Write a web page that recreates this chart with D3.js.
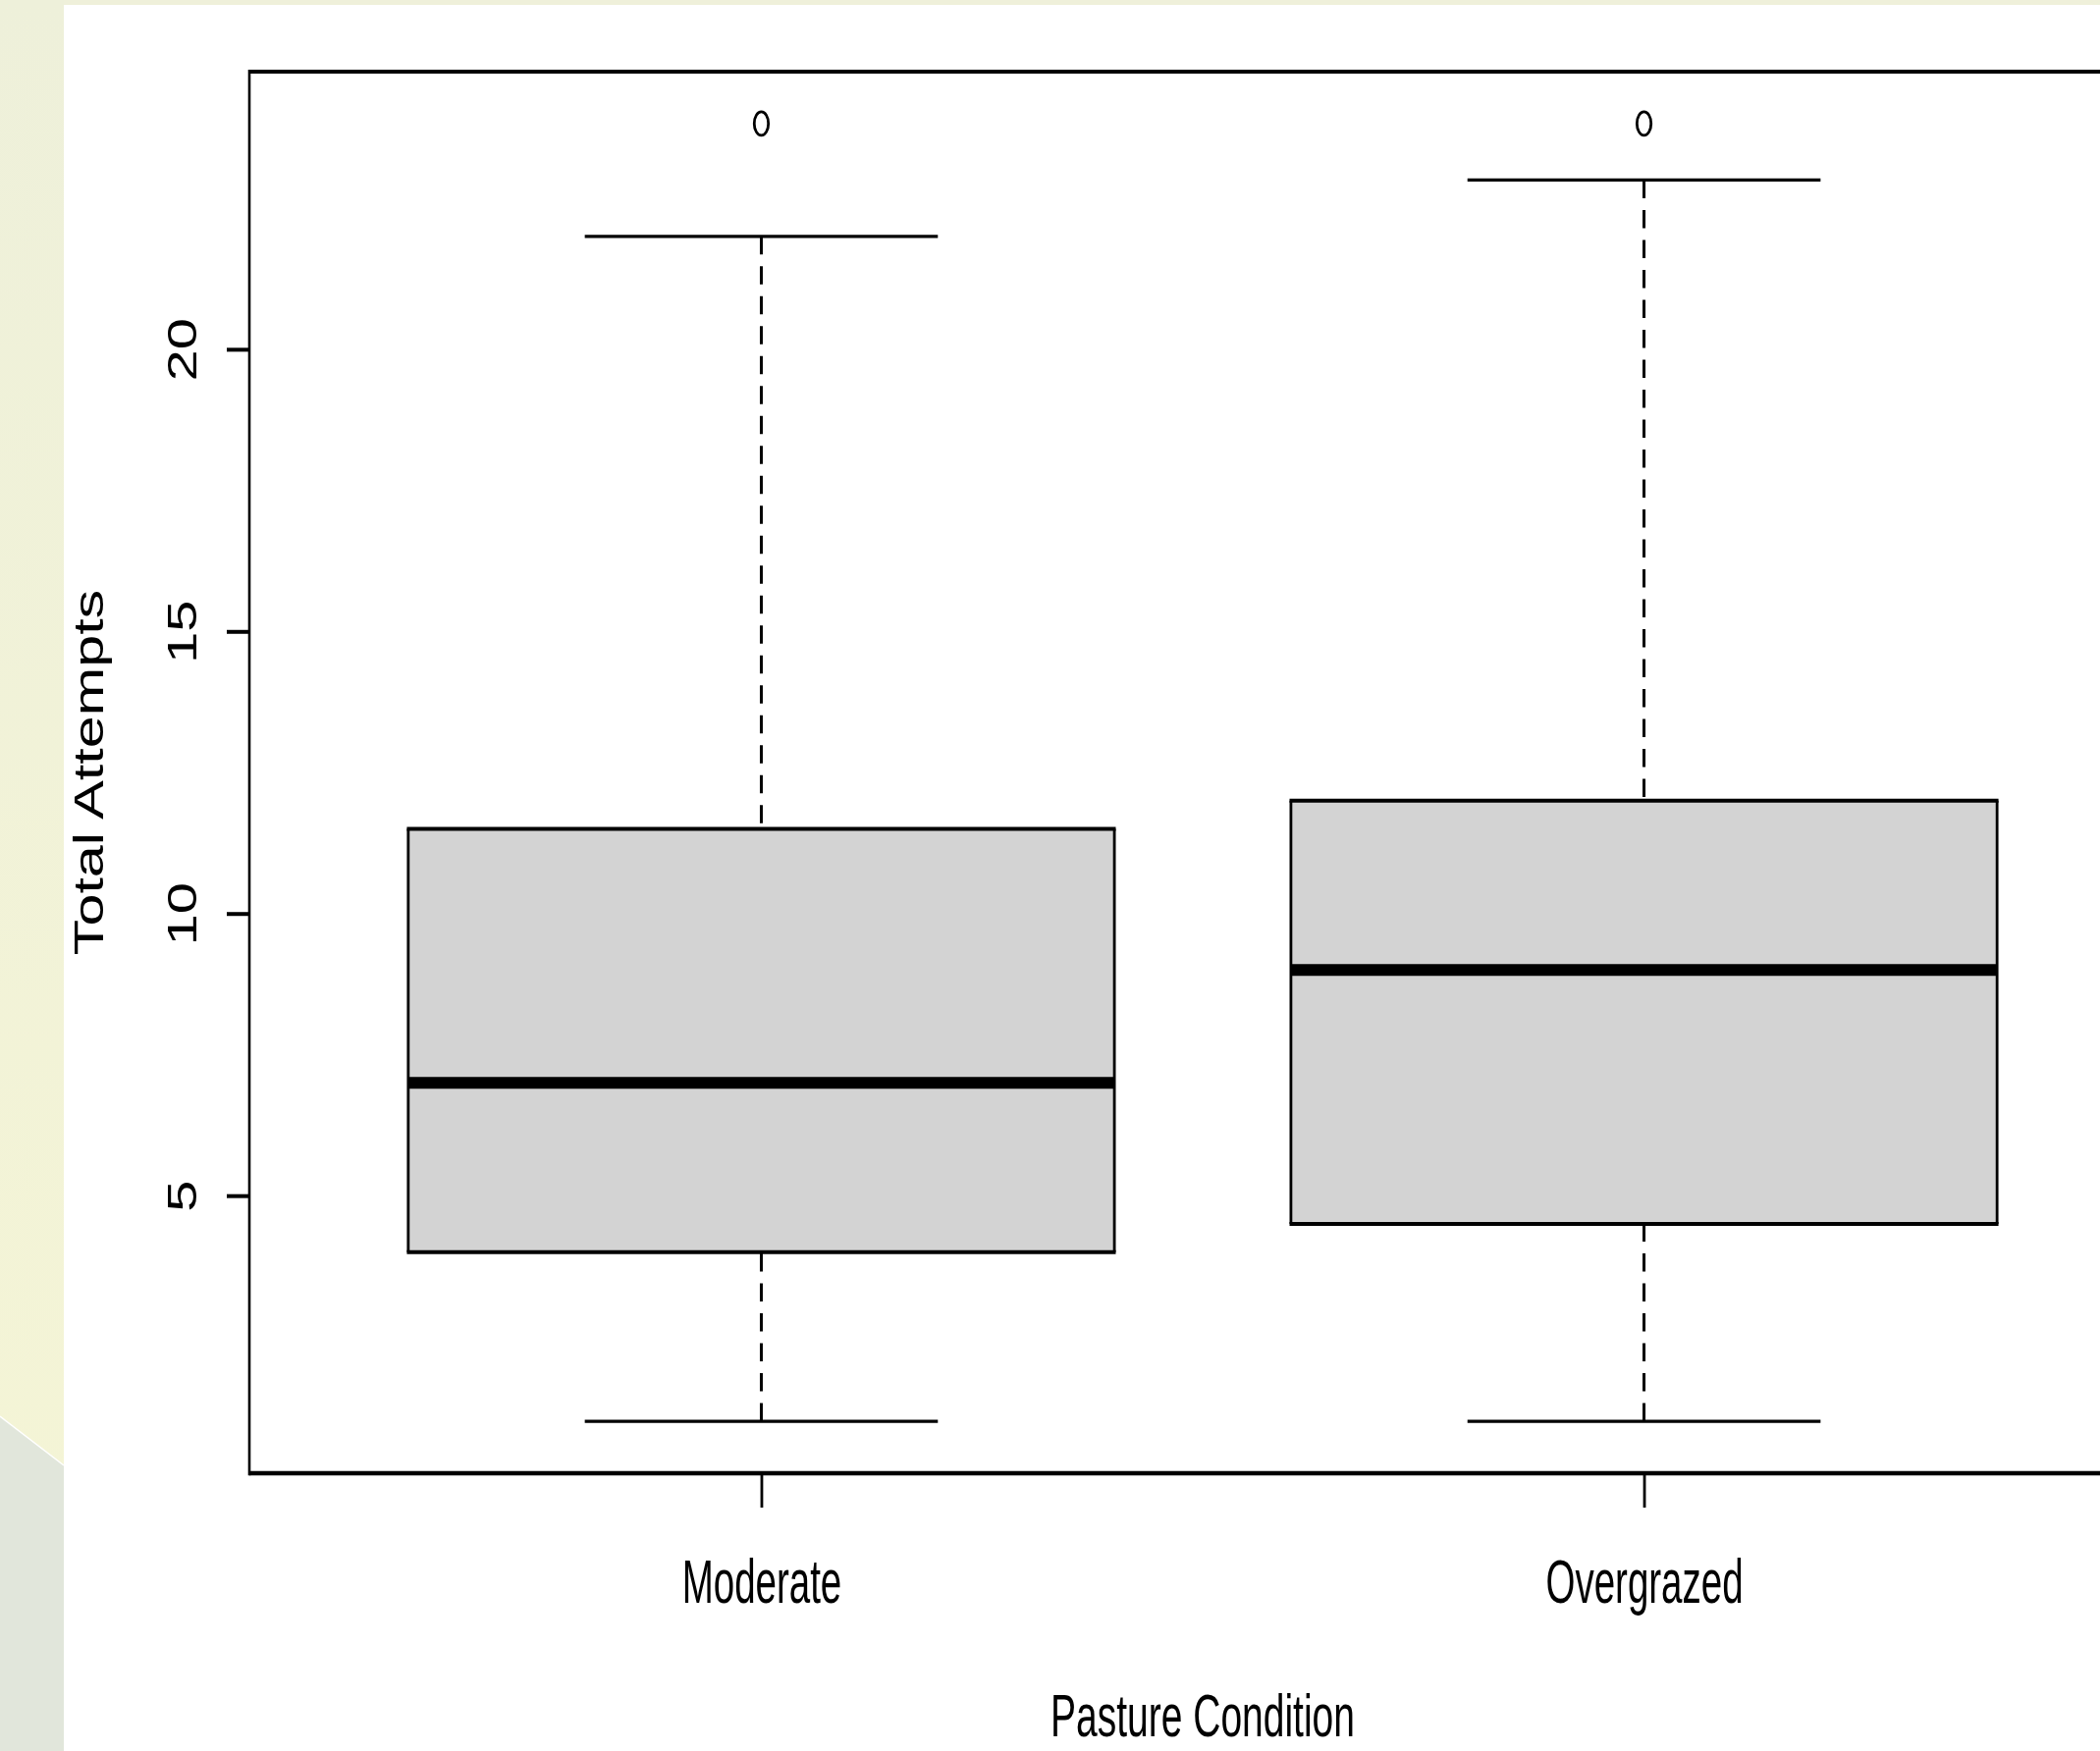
<!DOCTYPE html>
<html>
<head>
<meta charset="utf-8">
<script src="https://cdn.jsdelivr.net/npm/d3@7"></script>
<style>
body { margin: 0; background: #ffffff; }
svg { display: block; }
</style>
</head>
<body>
<svg id="chart"></svg>
<script>
// box stats
var categories = ["Moderate", "Overgrazed"];
var whiskerLow = [1, 1];
var q1 = [4, 4.5];
var median = [7, 9];
var q3 = [11.5, 12];
var whiskerHigh = [22, 23];
var outliers = [[24], [24]];
var yTicks = [5, 10, 15, 20];

var width = 2139, height = 1784;
var font = "'Liberation Sans', Arial, sans-serif";

var svg = d3.select("#chart").attr("width", width).attr("height", height);

// slide background bits
var defs = svg.append("defs");
var grad = defs.append("linearGradient").attr("id", "strip")
.attr("x1", 0).attr("y1", 0).attr("x2", 0).attr("y2", 1);
grad.append("stop").attr("offset", "0%").attr("stop-color", "#eef0da");
grad.append("stop").attr("offset", "100%").attr("stop-color", "#f5f5d5");

svg.append("rect").attr("x", 0).attr("y", 0).attr("width", width).attr("height", 5).attr("fill", "#eff0da");
svg.append("rect").attr("x", 0).attr("y", 0).attr("width", 65).attr("height", height).attr("fill", "url(#strip)");
svg.append("path").attr("d", "M0,1443L65,1493L65,1784L0,1784Z").attr("fill", "#e1e6db");
svg.append("path").attr("d", "M0,1443L65,1493").attr("stroke", "#ffffff").attr("stroke-width", 1.5);

var x = d3.scaleLinear()
.domain([0.42, 2.58])
.range([254, 2196]);

var y = d3.scaleLinear()
.domain([0.08, 24.92])
.range([1501, 73]);

var boxHalf = 0.4, capHalf = 0.2;

var g = svg.append("g");

var boxes = g.selectAll("g.box")
.data(categories)
.join("g")
.attr("class", "box");

// whiskers (dashed), drawn from whisker end to box like R does
boxes.append("line")
.attr("x1", (d, i) => x(i + 1)).attr("x2", (d, i) => x(i + 1))
.attr("y1", (d, i) => y(whiskerHigh[i])).attr("y2", (d, i) => y(q3[i]))
.attr("stroke", "#000").attr("stroke-width", 3).attr("stroke-dasharray", "18.5,12");
boxes.append("line")
.attr("x1", (d, i) => x(i + 1)).attr("x2", (d, i) => x(i + 1))
.attr("y1", (d, i) => y(whiskerLow[i])).attr("y2", (d, i) => y(q1[i]))
.attr("stroke", "#000").attr("stroke-width", 3).attr("stroke-dasharray", "18.5,12");

// staples
boxes.append("line")
.attr("x1", (d, i) => x(i + 1 - capHalf)).attr("x2", (d, i) => x(i + 1 + capHalf))
.attr("y1", (d, i) => y(whiskerHigh[i])).attr("y2", (d, i) => y(whiskerHigh[i]))
.attr("stroke", "#000").attr("stroke-width", 3.3);
boxes.append("line")
.attr("x1", (d, i) => x(i + 1 - capHalf)).attr("x2", (d, i) => x(i + 1 + capHalf))
.attr("y1", (d, i) => y(whiskerLow[i])).attr("y2", (d, i) => y(whiskerLow[i]))
.attr("stroke", "#000").attr("stroke-width", 3.3);

// box body
boxes.append("rect")
.attr("x", (d, i) => x(i + 1 - boxHalf))
.attr("y", (d, i) => y(q3[i]))
.attr("width", (d, i) => x(i + 1 + boxHalf) - x(i + 1 - boxHalf))
.attr("height", (d, i) => y(q1[i]) - y(q3[i]))
.attr("fill", "#d3d3d3");

// box edges: horizontal ones come out thicker in the picture
boxes.each(function(d, i) {
var b = d3.select(this);
var l = x(i + 1 - boxHalf), r = x(i + 1 + boxHalf);
[q1[i], q3[i]].forEach(function(v) {
b.append("line").attr("x1", l - 1.4).attr("x2", r + 1.4).attr("y1", y(v)).attr("y2", y(v))
.attr("stroke", "#000").attr("stroke-width", 4);
});
[l, r].forEach(function(px) {
b.append("line").attr("x1", px).attr("x2", px).attr("y1", y(q3[i])).attr("y2", y(q1[i]))
.attr("stroke", "#000").attr("stroke-width", 2.8);
});
b.append("line").attr("x1", l).attr("x2", r).attr("y1", y(median[i])).attr("y2", y(median[i]))
.attr("stroke", "#000").attr("stroke-width", 12);
});

// outliers
boxes.selectAll("ellipse")
.data((d, i) => outliers[i].map(v => ({i: i, v: v})))
.join("ellipse")
.attr("cx", d => x(d.i + 1))
.attr("cy", d => y(d.v))
.attr("rx", 7.2)
.attr("ry", 12)
.attr("fill", "none")
.attr("stroke", "#000")
.attr("stroke-width", 2.8);

// frame (right side runs past the page)
var frameL = x.range()[0], frameR = x.range()[1], frameT = y.range()[1], frameB = y.range()[0];
svg.append("line").attr("x1", frameL).attr("x2", frameR + 5).attr("y1", frameT).attr("y2", frameT)
.attr("stroke", "#000").attr("stroke-width", 4.2);
svg.append("line").attr("x1", frameL).attr("x2", frameR + 5).attr("y1", frameB).attr("y2", frameB)
.attr("stroke", "#000").attr("stroke-width", 4.6);
svg.append("line").attr("x1", frameL).attr("x2", frameL).attr("y1", frameT - 2).attr("y2", frameB + 2.3)
.attr("stroke", "#000").attr("stroke-width", 2.6);

// y axis
var yAxis = svg.append("g")
.attr("transform", `translate(${frameL},0)`)
.call(d3.axisLeft(y).tickValues(yTicks).tickSize(23).tickFormat(d => d));
yAxis.select(".domain").remove();
yAxis.selectAll(".tick line").attr("stroke", "#000").attr("stroke-width", 4);
yAxis.selectAll(".tick text")
.attr("x", null).attr("dy", null)
.attr("transform", "translate(-54,0) rotate(-90) scale(1.35,1)")
.attr("text-anchor", "middle")
.attr("fill", "#000")
.style("font-family", font)
.style("font-size", "43px");

// x axis
var xAxis = svg.append("g")
.attr("transform", `translate(0,${frameB})`)
.call(d3.axisBottom(x).tickValues([1, 2]).tickSize(35).tickFormat(d => categories[d - 1]));
xAxis.select(".domain").remove();
xAxis.selectAll(".tick line").attr("stroke", "#000").attr("stroke-width", 2.8);
xAxis.selectAll(".tick text")
.attr("y", null).attr("dy", null)
.attr("transform", "translate(0,132) scale(1,1.62)")
.attr("text-anchor", "middle")
.attr("fill", "#000")
.style("font-family", font)
.style("font-size", "38.5px");

// axis titles (nudged up a little so it stays inside the page)
svg.append("text")
.attr("transform", `translate(${(frameL + frameR) / 2},1769) scale(1,1.55)`)
.attr("text-anchor", "middle")
.style("font-family", font)
.style("font-size", "39px")
.text("Pasture Condition");

svg.append("text")
.attr("transform", `translate(105,${(frameT + frameB) / 2}) rotate(-90) scale(1.38,1)`)
.attr("text-anchor", "middle")
.style("font-family", font)
.style("font-size", "43px")
.text("Total Attempts");
</script>
</body>
</html>
